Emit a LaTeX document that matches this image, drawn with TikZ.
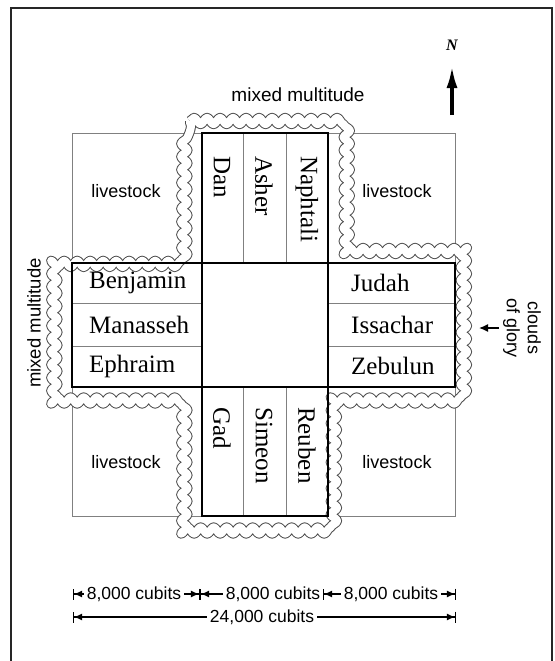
\documentclass[tikz,border=0pt]{standalone}
\usepackage{fontspec}
\setmainfont{Liberation Serif}
\setsansfont{Liberation Sans}
\usetikzlibrary{arrows.meta,decorations.pathmorphing}

\tikzset{
  tribe/.style={font=\fontsize{25}{28}\selectfont, inner sep=0pt},
  tribedown/.style={tribe, rotate=-90, anchor=west},
  tribeside/.style={tribe, anchor=west},
  note/.style={font=\sffamily\fontsize{18}{21}\selectfont, inner sep=1pt},
  dimtext/.style={font=\sffamily\fontsize{17.5}{20}\selectfont, fill=white, inner sep=3pt},
  dimline/.style={line width=1.1pt,
    {Bar[width=11pt]Latex[length=8pt,width=7pt]}-{Latex[length=8pt,width=7pt]Bar[width=11pt]}},
  thingrid/.style={gray, line width=0.8pt},
  camp/.style={line width=1.8pt},
  cloudband/.style={decorate, decoration={snake, segment length=13pt, amplitude=3.2pt},
    draw=gray!60!black, line width=1pt, double=white, double distance=8pt,
    line join=round},
}

\begin{document}
\begin{tikzpicture}[x=1pt,y=-1pt]
	\useasboundingbox (0,0) rectangle (554,661);
	
	% frame
	\draw[line width=2.5pt, black!85] (11,661) -- (11,8) -- (552,8) -- (552,661);
	
	% livestock squares
	\draw[thingrid] (72,133) rectangle (455,516);
	
	% clouds of glory around the camp
	\draw[cloudband] (190,121) -- (340,121) -- (340,251) -- (467,251)
		-- (467,399) -- (340,399) -- (340,528) -- (190,528)
		-- (190,399) -- (60,399) -- (60,251) -- (190,251) -- cycle;
	
	% tribe strips
	\foreach \x in {243,286} {
		\draw[thingrid] (\x,133) -- (\x,263);
		\draw[thingrid] (\x,387) -- (\x,516);
	}
	\foreach \y in {303,346} {
		\draw[thingrid] (72,\y) -- (202,\y);
		\draw[thingrid] (328,\y) -- (455,\y);
	}
	\draw[camp] (202,133) rectangle (328,516);
	\draw[camp] (72,263) rectangle (455,387);
	
	% north
	\node[tribedown] (dan) at (222,156) {Dan};
	\node[tribedown] (asher) at (264,156) {Asher};
	\node[tribedown] (naphtali) at (307,156) {Naphtali};
	% south
	\node[tribedown] (gad) at (222,407) {Gad};
	\node[tribedown] (simeon) at (264,407) {Simeon};
	\node[tribedown] (reuben) at (307,407) {Reuben};
	% west
	\node[tribeside] (benjamin) at (89,283) {Benjamin};
	\node[tribeside] (manasseh) at (89,325) {Manasseh};
	\node[tribeside] (ephraim) at (89,366) {Ephraim};
	% east
	\node[tribeside] (judah) at (351,283) {Judah};
	\node[tribeside] (issachar) at (351,325) {Issachar};
	\node[tribeside] (zebulun) at (351,366) {Zebulun};
	
	\node[note] (stocknw) at (126,191) {livestock};
	\node[note] (stockne) at (397,191) {livestock};
	\node[note] (stocksw) at (126,462) {livestock};
	\node[note] (stockse) at (397,462) {livestock};
	
	\node[note, font=\sffamily\fontsize{19}{22}\selectfont] (mixedtop) at (298,95) {mixed multitude};
	\node[note, rotate=90, font=\sffamily\fontsize{18.5}{22}\selectfont] (mixedleft) at (34,323) {mixed multitude};
	\node[note, rotate=-90, align=center] (glory) at (522,328) {clouds\\of glory};
	\coordinate (glorytail) at (499,328);
	\coordinate (glorytip) at (479,328);
	\draw[line width=1.4pt, -{Latex[length=9pt,width=8pt]}] (glorytail) -- (glorytip);
	
	% compass
	\node[font=\fontsize{16}{18}\selectfont\bfseries\itshape] (north) at (452,45) {N};
	\coordinate (ntail) at (452,115);
	\coordinate (ntip) at (452,66);
	\draw[line width=3.5pt, -{Latex[length=22pt,width=11pt]}] (ntail) -- (ntip);
	
	% dimensions
	\coordinate (da) at (73,594);
	\coordinate (db) at (200,594);
	\coordinate (dc) at (323,594);
	\coordinate (dd) at (456,594);
	\coordinate (ta) at (73,617);
	\coordinate (tb) at (456,617);
	\draw[dimline] (da) -- (db);
	\draw[dimline] (db) -- (dc);
	\draw[dimline] (dc) -- (dd);
	\draw[dimline] (ta) -- (tb);
	\node[dimtext] (cubitsa) at (134,594) {8,000 cubits};
	\node[dimtext] (cubitsb) at (273,594) {8,000 cubits};
	\node[dimtext] (cubitsc) at (391,594) {8,000 cubits};
	\node[dimtext] (cubitsall) at (262,617) {24,000 cubits};
\end{tikzpicture}
\end{document}
